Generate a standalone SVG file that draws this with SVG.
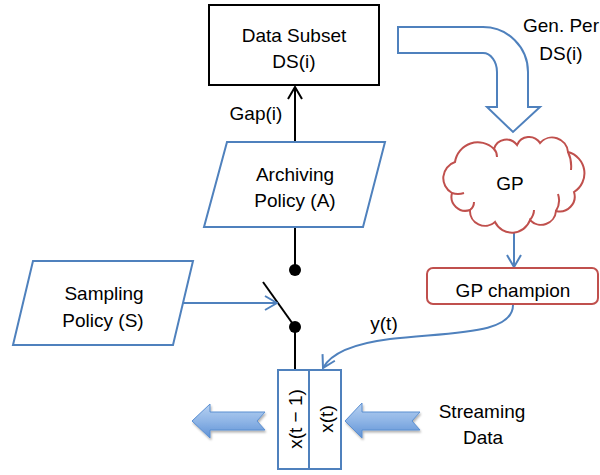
<svg xmlns="http://www.w3.org/2000/svg" width="600" height="475" viewBox="0 0 600 475">
<style>
text{font-family:"Liberation Sans",Arial,sans-serif;font-size:19px;fill:#000;text-anchor:middle}
.blue{fill:#fff;stroke:#4f81bd;stroke-width:2}
.bl{fill:none;stroke:#4f81bd;stroke-width:2}
.blk{fill:none;stroke:#000;stroke-width:2}
.red{fill:#fff;stroke:#c0504d;stroke-width:2}
.block{fill:url(#grad);stroke:#5b8fd1;stroke-width:1;filter:url(#sh)}
</style>
<defs>
<linearGradient id="grad" x1="0" y1="0" x2="0" y2="1">
<stop offset="0" stop-color="#b7d1f1"/>
<stop offset="0.5" stop-color="#8fb5e6"/>
<stop offset="1" stop-color="#5f92d6"/>
</linearGradient>
<filter id="sh" x="-10%" y="-20%" width="130%" height="160%">
<feDropShadow dx="1" dy="2" stdDeviation="1.2" flood-color="#000" flood-opacity="0.3"/>
</filter>
<marker id="ab" viewBox="0 0 14 16" refX="13" refY="8" markerWidth="14" markerHeight="16" markerUnits="userSpaceOnUse" orient="auto">
<path d="M1,1 L13,8 L1,15" fill="none" stroke="#4f81bd" stroke-width="2"/>
</marker>
<marker id="ak" viewBox="0 0 14 16" refX="13" refY="8" markerWidth="14" markerHeight="16" markerUnits="userSpaceOnUse" orient="auto">
<path d="M1,1 L13,8 L1,15" fill="none" stroke="#000" stroke-width="2"/>
</marker>
</defs>

<g id="connectors">
<line class="blk" x1="295" y1="142" x2="295" y2="87" marker-end="url(#ak)"/>
<line class="blk" x1="295" y1="227" x2="295" y2="270"/>
<line class="blk" x1="263" y1="282" x2="295" y2="327"/>
<line class="blk" x1="295" y1="327" x2="295" y2="370"/>
<line class="bl" x1="183" y1="303" x2="277" y2="303" marker-end="url(#ab)"/>
<line class="bl" x1="514" y1="227" x2="514" y2="267" marker-end="url(#ab)"/>
<path class="bl" d="M513,305 C513,335 450,332 390,339 C350,344 330,355 323,368" marker-end="url(#ab)"/>
<circle cx="295" cy="270" r="6" fill="#000"/>
<circle cx="295" cy="327" r="6" fill="#000"/>
<path class="blue" d="M398,27 L483,27 A45,45 0 0 1 528,72 L528,107 L540,107 L513,132 L487,107 L497,107 L497,72 A14,19 0 0 0 483,53 L398,53 Z"/>
<path class="block" d="M192,421 L210,404 L210,412 L265,412 L257,421 L265,430 L210,430 L210,438 Z"/>
<path class="block" d="M345,421 L362,403 L362,412 L420,412 L412,421 L420,430 L362,430 L362,438 Z"/>
</g>

<g id="data-subset">
<rect x="209" y="5" width="170" height="80" fill="#fff" stroke="#000" stroke-width="2"/>
<text x="294" y="42">Data Subset</text>
<text x="294" y="68">DS(i)</text>
</g>
<g id="gap-label"><text x="256" y="120">Gap(i)</text></g>
<g id="gen-label">
<text x="561" y="32">Gen. Per</text>
<text x="561" y="60">DS(i)</text>
</g>

<g id="archiving">
<path class="blue" d="M227,142 L385,142 L363,227 L204,227 Z"/>
<text x="295" y="181">Archiving</text>
<text x="295" y="207">Policy (A)</text>
</g>

<g id="sampling">
<path class="blue" d="M33,261 L193,261 L173,345 L13,345 Z"/>
<text x="104" y="300">Sampling</text>
<text x="103" y="327">Policy (S)</text>
</g>

<g id="gp">
<path class="red" d="M452,193 A17,17 0 0 1 455,162 A23,23 0 0 1 494,149 A13,13 0 0 1 517,145 A13,13 0 0 1 540,143 A16,16 0 0 1 568,152 A22,22 0 0 1 574,192 A15,15 0 0 1 556,211 A15,15 0 0 1 530,220 A19,19 0 0 1 495,222 A15,15 0 0 1 470,210 A14,14 0 0 1 452,193 Z"/>
<path fill="none" stroke="#c0504d" stroke-width="2" d="M452,193 Q458,195 464,193 M494,149 Q497,152 497,157 M568,152 Q572,160 571,170 M556,211 Q561,203 558,194 M530,220 Q534,215 534,210 M470,210 Q474,207 474,202"/>
<text x="510" y="190">GP</text>
</g>

<g id="gp-champion">
<rect class="red" x="427" y="268" width="171" height="36" rx="6"/>
<text x="513" y="297">GP champion</text>
</g>

<g id="y-label"><text x="384" y="330">y(t)</text></g>

<g id="x-buffer">
<rect class="blue" x="278" y="370" width="31" height="99"/>
<rect class="blue" x="309" y="370" width="32" height="99"/>
<text transform="translate(302,419) rotate(-90)">x(t − 1)</text>
<text transform="translate(333,419) rotate(-90)">x(t)</text>
</g>

<g id="streaming">
<text x="482" y="418">Streaming</text>
<text x="483" y="444">Data</text>
</g>
</svg>
